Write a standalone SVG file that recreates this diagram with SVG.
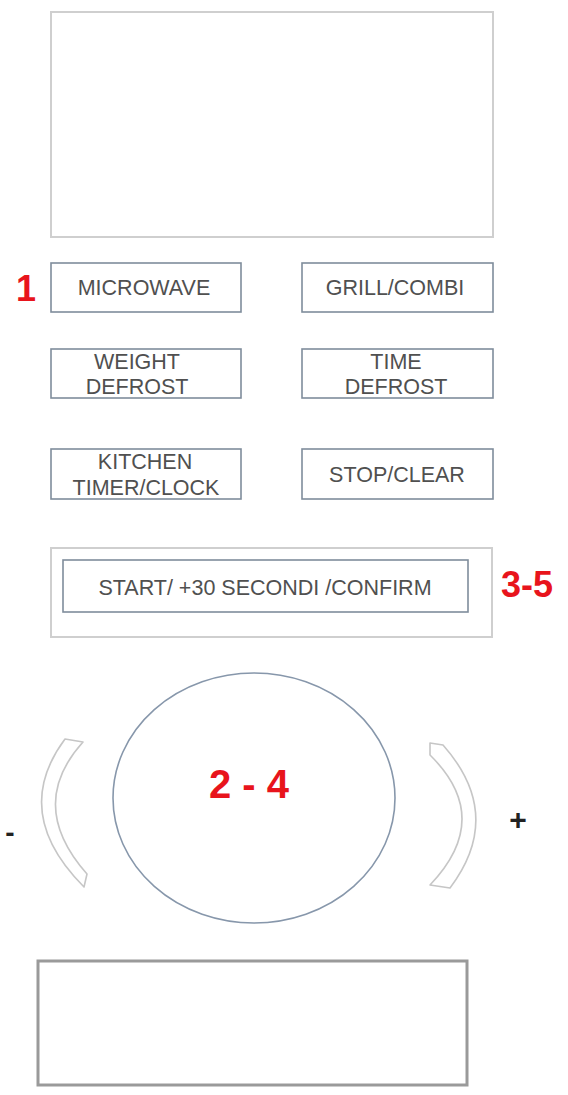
<svg xmlns="http://www.w3.org/2000/svg" width="568" height="1095" viewBox="0 0 568 1095">
  <style>
    .btn { fill: #ffffff; stroke: #7f8d9c; stroke-width: 1.6; }
    .panel { fill: #ffffff; stroke: #cfcfcf; stroke-width: 2; }
    .lbl { font-family: "Liberation Sans", Arial, sans-serif; font-size: 21.5px; fill: #505050; text-anchor: middle; }
    .red { font-family: "Liberation Sans", Arial, sans-serif; font-size: 36px; font-weight: bold; fill: #e8141c; }
    .sign { font-family: "Liberation Sans", Arial, sans-serif; font-weight: bold; fill: #222222; text-anchor: middle; }
    .arc { fill: #ffffff; stroke: #c6c6c6; stroke-width: 1.6; stroke-linejoin: round; }
  </style>
  <rect width="568" height="1095" fill="#ffffff"/>

  <g id="display">
    <rect class="panel" x="51" y="12" width="442" height="225"/>
  </g>

  <g id="label-1">
    <text class="red" x="26" y="301" text-anchor="middle">1</text>
  </g>

  <g id="btn-microwave">
    <rect class="btn" x="51" y="263" width="190" height="49"/>
    <text class="lbl" x="144" y="295">MICROWAVE</text>
  </g>
  <g id="btn-grill">
    <rect class="btn" x="302" y="263" width="191" height="49"/>
    <text class="lbl" x="395" y="295">GRILL/COMBI</text>
  </g>
  <g id="btn-weight">
    <rect class="btn" x="51" y="349" width="190" height="49"/>
    <text class="lbl" x="137" y="369">WEIGHT</text>
    <text class="lbl" x="137" y="394">DEFROST</text>
  </g>
  <g id="btn-time">
    <rect class="btn" x="302" y="349" width="191" height="49"/>
    <text class="lbl" x="396" y="369">TIME</text>
    <text class="lbl" x="396" y="394">DEFROST</text>
  </g>
  <g id="btn-kitchen">
    <rect class="btn" x="51" y="449" width="190" height="50"/>
    <text class="lbl" x="145" y="469">KITCHEN</text>
    <text class="lbl" x="146" y="495">TIMER/CLOCK</text>
  </g>
  <g id="btn-stop">
    <rect class="btn" x="302" y="449" width="191" height="50"/>
    <text class="lbl" x="397" y="482">STOP/CLEAR</text>
  </g>

  <g id="start-panel">
    <rect class="panel" x="51" y="548" width="441" height="89"/>
    <rect class="btn" x="63" y="560" width="405" height="52"/>
    <text class="lbl" x="265" y="595">START/ +30 SECONDI /CONFIRM</text>
  </g>
  <g id="label-3-5">
    <text class="red" x="501" y="597">3-5</text>
  </g>

  <g id="dial">
    <ellipse cx="254" cy="798" rx="141" ry="125" fill="#ffffff" stroke="#8797ab" stroke-width="1.6"/>
    <text class="red" x="249" y="798" text-anchor="middle" style="font-size:40px">2 - 4</text>
  </g>

  <g id="arc-minus">
    <path class="arc" d="M 65 739 L 83 742 Q 26 805 87 874 L 84 887 Q 10 813 65 739 Z"/>
    <text class="sign" x="10" y="842" style="font-size:28px">-</text>
  </g>
  <g id="arc-plus">
    <path class="arc" d="M 430 743 L 443 745 Q 505 815 450 888 L 430 885 Q 494 818 430 755 Z"/>
    <text class="sign" x="518" y="830" style="font-size:30px">+</text>
  </g>

  <g id="bottom-box">
    <rect x="38" y="961" width="429" height="124" fill="#ffffff" stroke="#9a9a9a" stroke-width="3"/>
  </g>
</svg>
